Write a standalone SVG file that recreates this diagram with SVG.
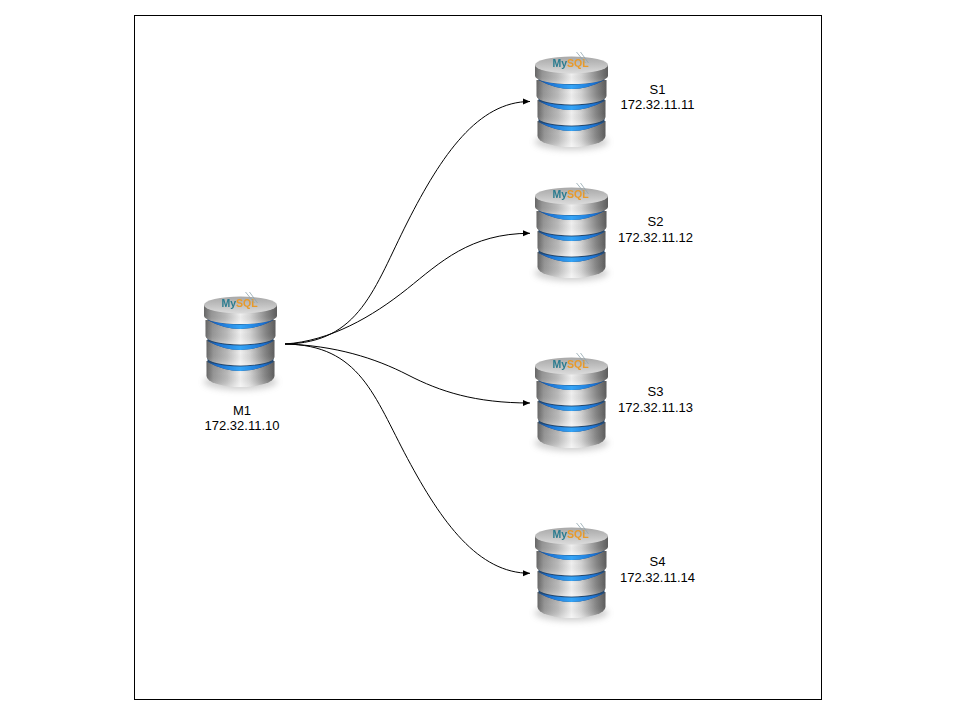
<svg xmlns="http://www.w3.org/2000/svg" xmlns:xlink="http://www.w3.org/1999/xlink" width="960" height="720" viewBox="0 0 960 720">
<style>
.lbl{font-family:"Liberation Sans",Arial,sans-serif;font-size:13px;fill:#000;text-anchor:middle}
.conn{fill:none;stroke:#000;stroke-width:1;marker-end:url(#arr)}
.my{font-family:"Liberation Sans",Arial,sans-serif;font-size:10.500px;font-weight:bold}
.side{fill:url(#metal)}
.sheen{fill:url(#sheen)}
.ring{fill:url(#blue)}
.core{fill:#24486f}
</style>
<defs>
<marker id="arr" markerUnits="userSpaceOnUse" markerWidth="8" markerHeight="8" refX="7" refY="4" orient="auto"><path d="M0,1 L7,4 L0,7 Z" fill="#000"/></marker>
<linearGradient id="metal" x1="0" x2="1" y1="0" y2="0">
<stop offset="0" stop-color="#666"/><stop offset=".1" stop-color="#959595"/><stop offset=".3" stop-color="#b9b9b9"/><stop offset=".5" stop-color="#efefef"/><stop offset=".64" stop-color="#d2d2d2"/><stop offset=".86" stop-color="#858585"/><stop offset="1" stop-color="#5c5c5c"/>
</linearGradient>
<linearGradient id="sheen" x1="0" x2="0" y1="0" y2="1">
<stop offset="0" stop-color="#555" stop-opacity=".2"/><stop offset=".5" stop-color="#777" stop-opacity="0"/><stop offset=".85" stop-color="#fff" stop-opacity=".15"/><stop offset="1" stop-color="#fff" stop-opacity=".4"/>
</linearGradient>
<linearGradient id="cap" x1="0" x2="0" y1="0" y2="1">
<stop offset="0" stop-color="#a8a8a8"/><stop offset=".5" stop-color="#c0c0c0"/><stop offset="1" stop-color="#dcdcdc"/>
</linearGradient>
<linearGradient id="blue" x1="0" x2="1" y1="0" y2="0">
<stop offset="0" stop-color="#1c4f92"/><stop offset=".15" stop-color="#1a6fd0"/><stop offset=".5" stop-color="#35a5f7"/><stop offset=".85" stop-color="#1a6fd0"/><stop offset="1" stop-color="#1c4f92"/>
</linearGradient>
<filter id="soft" x="-10%" y="-10%" width="120%" height="120%"><feGaussianBlur stdDeviation="0.7"/></filter>
<filter id="sh" x="-30%" y="-100%" width="160%" height="300%"><feGaussianBlur stdDeviation="3"/></filter>
<g id="db">
<ellipse cx="0" cy="87" rx="37" ry="8" fill="#8a8a8a" opacity=".4" filter="url(#sh)"/>
<g filter="url(#soft)">
<path class="side" d="M-34,66 L-34,81 A34,11 0 0 0 34,81 L34,66 Z"/>
<path class="sheen" d="M-34,66 L-34,81 A34,11 0 0 0 34,81 L34,66 Z"/>
<path class="core" d="M-33,62 L-33,67 Q0,85 33,67 L33,62 Z"/>
<path class="ring" d="M-33,67 Q0,85 33,67 Q0,76 -33,67 Z"/>
<path class="side" d="M-34,45 L-34,62 A34,8.500 0 0 0 34,62 L34,45 Z"/>
<path class="sheen" d="M-34,45 L-34,62 A34,8.500 0 0 0 34,62 L34,45 Z"/>
<path class="core" d="M-33,41 L-33,46 Q0,64 33,46 L33,41 Z"/>
<path class="ring" d="M-33,46 Q0,64 33,46 Q0,55 -33,46 Z"/>
<path class="side" d="M-35,25 L-35,41 A35,8.500 0 0 0 35,41 L35,25 Z"/>
<path class="sheen" d="M-35,25 L-35,41 A35,8.500 0 0 0 35,41 L35,25 Z"/>
<path class="core" d="M-33,21 L-33,25 Q0,43 33,25 L33,21 Z"/>
<path class="ring" d="M-33,25 Q0,43 33,25 Q0,34 -33,25 Z"/>
<path class="side" d="M-36.500,10 L-36.500,21 A36.500,8 0 0 0 36.500,21 L36.500,10 Z"/>
<path class="sheen" d="M-36.500,10 L-36.500,21 A36.500,8 0 0 0 36.500,21 L36.500,10 Z"/>
<ellipse cx="0" cy="10" rx="36.500" ry="8.500" fill="url(#cap)"/>
<text class="my" x="-19" y="11.500" fill="#2b7c8f">My<tspan fill="#e89a2a">SQL</tspan></text>
<path d="M5,-3 L14,8 M9,-3 L17,8" stroke="#8fa5ad" stroke-width=".8" fill="none"/>
</g>
</g>
</defs>
<rect width="960" height="720" fill="#fff"/>
<rect x="134.500" y="15.500" width="687" height="684" fill="#fff" stroke="#000" stroke-width="1"/>
<g id="connectors">
<path class="conn" d="M285,344 C360,343 374,288 407.500,222 C441.500,155 478,101.500 530,101.500"/>
<path class="conn" d="M285,344 C330,341 372,317 407.500,288.600 C440,262.600 470,233.300 530,233.300"/>
<path class="conn" d="M285,344 C335,345.500 375,358 408,375 C440,391.500 475,403 530,403"/>
<path class="conn" d="M285,344 C360,345 374,396 407.500,458.500 C441.500,522 478,573.300 530,573.300"/>
</g>
<g id="M1"><use xlink:href="#db" href="#db" transform="translate(240.500,295)"/><text class="lbl" x="242" y="415">M1</text><text class="lbl" x="242" y="430">172.32.11.10</text></g>
<g id="S1"><use xlink:href="#db" href="#db" transform="translate(571.500,55)"/><text class="lbl" x="657.500" y="94">S1</text><text class="lbl" x="657.500" y="109">172.32.11.11</text></g>
<g id="S2"><use xlink:href="#db" href="#db" transform="translate(571.500,186)"/><text class="lbl" x="655.500" y="226">S2</text><text class="lbl" x="655.500" y="242">172.32.11.12</text></g>
<g id="S3"><use xlink:href="#db" href="#db" transform="translate(571.500,356)"/><text class="lbl" x="655.500" y="396">S3</text><text class="lbl" x="655.500" y="412">172.32.11.13</text></g>
<g id="S4"><use xlink:href="#db" href="#db" transform="translate(571.500,526)"/><text class="lbl" x="657.500" y="566">S4</text><text class="lbl" x="657.500" y="582">172.32.11.14</text></g>
</svg>
